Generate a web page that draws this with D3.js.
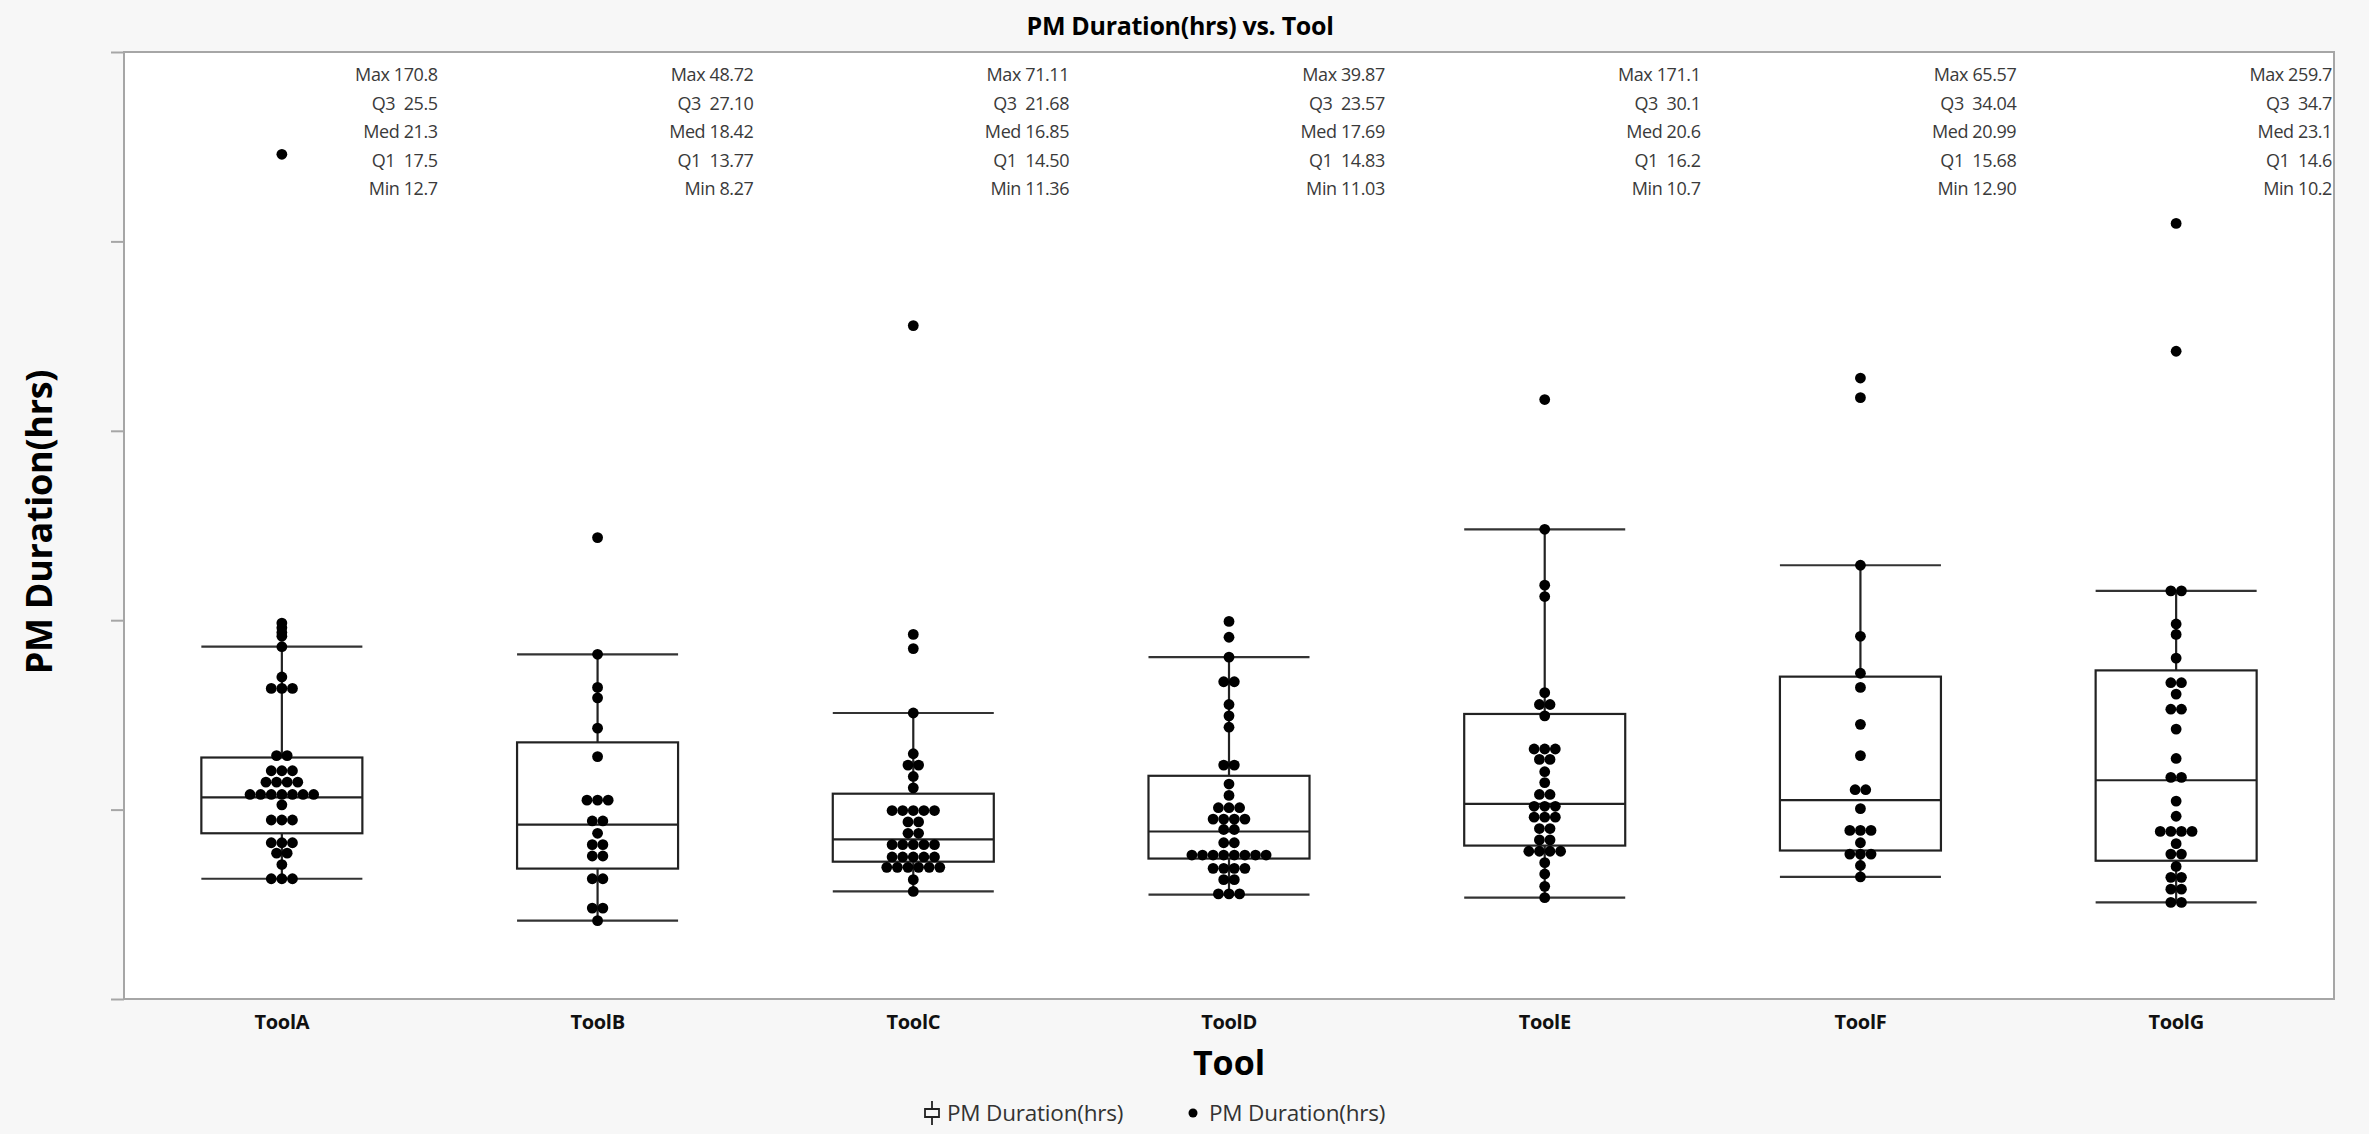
<!DOCTYPE html>
<html>
<head>
<meta charset="utf-8">
<script src="https://cdn.jsdelivr.net/npm/d3@7"></script>
<style>
  body { margin: 0; background: #f7f7f7; }
  svg { display: block; font-family: "Segoe UI", "Open Sans", "Noto Sans", sans-serif; }
  .stat { font-size: 18px; letter-spacing: -0.4px; fill: #3a3a3a; white-space: pre; }
  .xlab { font-size: 20px; font-weight: bold; fill: #111; letter-spacing: -0.3px; }
  .legend { font-size: 22.5px; fill: #333; letter-spacing: -0.2px; }
</style>
</head>
<body>
<div id="chart"></div>
<script>
// categories
const tools = ["ToolA", "ToolB", "ToolC", "ToolD", "ToolE", "ToolF", "ToolG"];

// PM duration (hrs) per tool (values above 100 fall off the axis)
const toolA_hrs = [170.8, 89.2, 39.7, 39.2, 38.7, 38.3, 37.2, 34.0, 32.8, 32.8, 32.8,
  25.7, 25.7, 24.1, 24.1, 24.1, 22.9, 22.9, 22.9, 22.9,
  21.6, 21.6, 21.6, 21.6, 21.6, 21.6, 21.6, 20.5, 18.9, 18.9, 18.9,
  16.5, 16.5, 16.5, 15.4, 15.4, 14.2, 12.7, 12.7, 12.7];
const toolB_hrs = [48.72, 36.4, 32.9, 31.8, 28.6, 25.6, 21.0, 21.0, 21.0, 18.8, 18.8,
  17.5, 16.3, 16.3, 15.1, 15.1, 12.7, 12.7, 9.6, 9.6, 8.27];
const toolC_hrs = [71.11, 38.5, 37.0, 30.2, 25.9, 24.7, 24.7, 23.5, 22.3,
  19.9, 19.9, 19.9, 19.9, 19.9, 18.7, 18.7, 17.5, 17.5,
  16.3, 16.3, 16.3, 16.3, 16.3, 15.0, 15.0, 15.0, 15.0, 15.0,
  13.9, 13.9, 13.9, 13.9, 13.9, 13.9, 12.6, 11.36];
const toolD_hrs = [39.87, 38.2, 36.1, 33.5, 33.5, 31.1, 29.9, 28.7, 24.7, 24.7, 22.7, 21.5,
  20.2, 20.2, 20.2, 19.0, 19.0, 19.0, 19.0, 17.9, 17.9, 16.5, 16.5,
  15.2, 15.2, 15.2, 15.2, 15.2, 15.2, 15.2, 15.2, 13.8, 13.8, 13.8, 13.8,
  12.6, 12.6, 11.1, 11.1, 11.1];
const toolE_hrs = [171.1, 63.3, 49.6, 43.7, 42.5, 32.35, 31.1, 31.1, 29.9, 26.4, 26.4, 26.4,
  25.3, 25.3, 24.0, 22.85, 21.6, 21.6, 20.35, 20.35, 20.35, 19.2, 19.2, 19.2,
  18.0, 18.0, 16.8, 16.8, 15.6, 15.6, 15.6, 15.6, 14.4, 13.2, 11.9, 10.7];
const toolF_hrs = [65.57, 63.5, 45.8, 38.3, 34.4, 32.9, 29.0, 25.7, 22.1, 22.1, 20.1,
  17.8, 17.8, 17.8, 16.5, 15.3, 15.3, 15.3, 14.1, 12.9];
const toolG_hrs = [259.7, 81.9, 68.4, 43.1, 43.1, 39.6, 38.5, 36.0, 33.4, 33.4, 32.2, 30.6, 30.6,
  28.5, 25.4, 23.4, 23.4, 20.9, 19.3, 17.7, 17.7, 17.7, 17.7, 16.4, 15.3, 15.3,
  14.0, 12.85, 12.85, 11.6, 11.6, 10.2, 10.2];

const hrsByTool = [toolA_hrs, toolB_hrs, toolC_hrs, toolD_hrs, toolE_hrs, toolF_hrs, toolG_hrs];

// quantile summary printed above each box
const maxLabels = ["170.8", "48.72", "71.11", "39.87", "171.1", "65.57", "259.7"];
const q3Labels = ["25.5", "27.10", "21.68", "23.57", "30.1", "34.04", "34.7"];
const medLabels = ["21.3", "18.42", "16.85", "17.69", "20.6", "20.99", "23.1"];
const q1Labels = ["17.5", "13.77", "14.50", "14.83", "16.2", "15.68", "14.6"];
const minLabels = ["12.7", "8.27", "11.36", "11.03", "10.7", "12.90", "10.2"];

// upper whisker ends (last point inside the fence)
const whiskerHi = [37.2, 36.4, 30.2, 36.1, 49.6, 45.8, 43.1];

const yTicks = [0, 20, 40, 60, 80, 100];

const width = 2369, height = 1134;
const plot = { left: 124, right: 2334, top: 52, bottom: 999 };
const dotR = 5.4, dotGap = 10.6;

const svg = d3.select("#chart").append("svg")
  .attr("width", width)
  .attr("height", height);

svg.append("rect")
  .attr("width", width).attr("height", height)
  .attr("fill", "#f7f7f7");

const x = d3.scaleBand()
  .domain(tools)
  .range([plot.left, plot.right])
  .paddingInner(0).paddingOuter(0);

const y = d3.scaleLinear()
  .domain([0, 100])
  .range([plot.bottom, plot.top]);

const boxW = x.bandwidth() * 0.51;

// title
svg.append("text")
  .attr("x", 1180).attr("y", 35)
  .attr("text-anchor", "middle")
  .style("font-size", "25px").style("font-weight", "bold")
  .style("letter-spacing", "-0.3px")
  .text("PM Duration(hrs) vs. Tool");

// plot area
svg.append("rect")
  .attr("x", plot.left).attr("y", plot.top)
  .attr("width", plot.right - plot.left).attr("height", plot.bottom - plot.top)
  .attr("fill", "#fff")
  .attr("stroke", "#a6a6a6").attr("stroke-width", 2);

svg.append("clipPath").attr("id", "clip")
  .append("rect")
  .attr("x", plot.left).attr("y", plot.top)
  .attr("width", plot.right - plot.left).attr("height", plot.bottom - plot.top);

// y axis: ticks only, no labels
const yAxis = svg.append("g")
  .attr("transform", "translate(" + plot.left + ",0)")
  .call(d3.axisLeft(y).tickValues(yTicks).tickSize(13).tickFormat(""));
yAxis.select(".domain").remove();
yAxis.selectAll(".tick line").attr("stroke", "#a6a6a6").attr("stroke-width", 2);

// x axis labels
const xAxis = svg.append("g")
  .attr("transform", "translate(0," + plot.bottom + ")")
  .call(d3.axisBottom(x).tickSize(0).tickPadding(16));
xAxis.attr("font-family", null).attr("font-size", null);
xAxis.select(".domain").remove();
xAxis.selectAll(".tick text").attr("class", "xlab");

svg.append("text")
  .attr("x", 1229).attr("y", 1075)
  .attr("text-anchor", "middle")
  .style("font-size", "34px").style("font-weight", "bold")
  .text("Tool");

svg.append("text")
  .attr("transform", "translate(52,522) rotate(-90)")
  .attr("text-anchor", "middle")
  .style("font-size", "36px").style("font-weight", "bold")
  .style("letter-spacing", "-0.3px")
  .text("PM Duration(hrs)");

const g = svg.append("g").attr("clip-path", "url(#clip)");

// boxes
const box = g.selectAll(".box")
  .data(tools)
  .enter().append("g")
  .attr("class", "box");

box.each(function (tool, i) {
  const cx = x(tool) + x.bandwidth() / 2;
  const q1 = +q1Labels[i], q3 = +q3Labels[i], med = +medLabels[i];
  const lo = +minLabels[i], hi = whiskerHi[i];
  const sel = d3.select(this);
  const line = (x1, y1, x2, y2) => sel.append("line")
    .attr("x1", x1).attr("y1", y1).attr("x2", x2).attr("y2", y2)
    .attr("stroke", "#222").attr("stroke-width", 2.2);

  sel.append("rect")
    .attr("x", cx - boxW / 2).attr("y", y(q3))
    .attr("width", boxW).attr("height", y(q1) - y(q3))
    .attr("fill", "none").attr("stroke", "#222").attr("stroke-width", 2.2);
  line(cx - boxW / 2, y(med), cx + boxW / 2, y(med));
  line(cx, y(q3), cx, y(hi));
  line(cx, y(q1), cx, y(lo));
  line(cx - boxW / 2, y(hi), cx + boxW / 2, y(hi)).attr("stroke", "#333");
  line(cx - boxW / 2, y(lo), cx + boxW / 2, y(lo)).attr("stroke", "#333");
});

// stacked dots: equal values spread sideways
function swarm(values) {
  const out = [];
  d3.group(values, v => v).forEach(vals => {
    vals.forEach((v, j) => out.push({ v: v, dx: (j - (vals.length - 1) / 2) * dotGap }));
  });
  return out;
}

tools.forEach((tool, i) => {
  const cx = x(tool) + x.bandwidth() / 2;
  g.append("g").selectAll("circle")
    .data(swarm(hrsByTool[i]))
    .enter().append("circle")
    .attr("cx", d => cx + d.dx)
    .attr("cy", d => y(d.v))
    .attr("r", dotR)
    .attr("fill", "#000");
});

// quantile text block at the top right of each band
const statRows = [
  ["Max ", maxLabels], ["Q3  ", q3Labels], ["Med ", medLabels], ["Q1  ", q1Labels], ["Min ", minLabels]
];
tools.forEach((tool, i) => {
  const right = Math.min(x(tool) + x.bandwidth(), plot.right) - 2;
  statRows.forEach((row, k) => {
    svg.append("text")
      .attr("class", "stat")
      .attr("x", right)
      .attr("y", 81 + k * 28.5)
      .attr("text-anchor", "end")
      .attr("xml:space", "preserve")
      .text(row[0] + row[1][i]);
  });
});

// legend
const lg = svg.append("g").attr("transform", "translate(0,1113)");
lg.append("path")
  .attr("d", "M932,-12V-4M925,-4H939V4H925ZM932,4V12")
  .attr("fill", "none").attr("stroke", "#222").attr("stroke-width", 1.8);
lg.append("text").attr("class", "legend").attr("x", 947).attr("y", 8).text("PM Duration(hrs)");
lg.append("circle").attr("cx", 1193).attr("cy", 0).attr("r", 4.5).attr("fill", "#000");
lg.append("text").attr("class", "legend").attr("x", 1209).attr("y", 8).text("PM Duration(hrs)");
</script>
</body>
</html>
